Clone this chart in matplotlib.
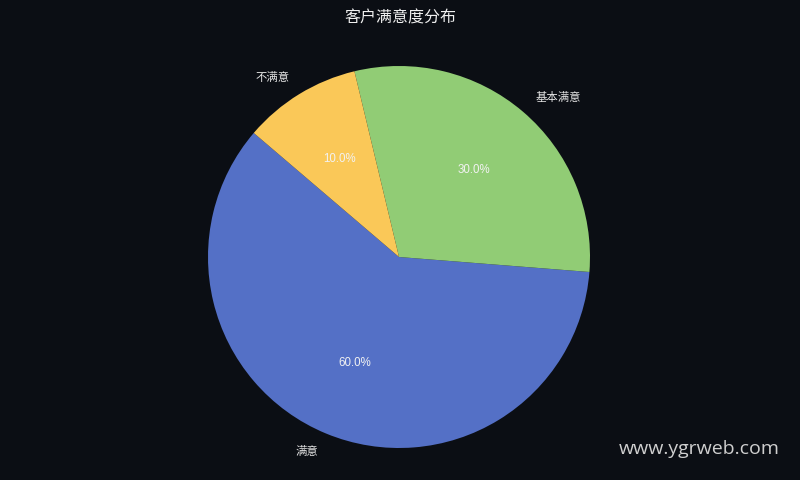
import matplotlib.pyplot as plt

# Dados do gráfico
categorias = ['满意', '基本满意', '不满意']
valores = [60, 30, 10]
cores = ['#5470c6', '#91cc75', '#fac858']

fundo = '#0b0e14'
plt.rcParams['font.family'] = ['Noto Sans CJK SC', 'DejaVu Sans']

fig = plt.figure(figsize=(8, 4.8), dpi=100, facecolor=fundo)

# eixo posicionado em pixels para o centro (399, 257) e raio ~191
raio_px = 191
lado = 2.5 * raio_px
ax = fig.add_axes([(399 - lado / 2) / 800, (223 - lado / 2) / 480, lado / 800, lado / 480])
ax.set_facecolor(fundo)

wedges, textos, pcts = ax.pie(valores, labels=categorias, colors=cores, startangle=139.5,
                              autopct='%1.1f%%', pctdistance=0.6, labeldistance=1.1,
                              wedgeprops=dict(linewidth=0))
for t in textos:
    t.set_color('#e6e6e6')
    t.set_fontsize(8.2)
for p in pcts:
    p.set_color('#f2f2f2')
    p.set_fontsize(8.3)
    p.set_family('Liberation Sans')

ax.set_xlim(-1.25, 1.25)
ax.set_ylim(-1.25, 1.25)
ax.set_aspect('equal')

fig.text(0.5, 1 - 18 / 480, '客户满意度分布', ha='center', va='center',
         color='#f0f0f0', fontsize=11.5)
fig.text(780 / 800, 1 - 449 / 480, 'www.ygrweb.com', ha='right', va='center',
         color='#cfcfcf', fontsize=14, family='Open Sans')

fig.savefig('out.png', dpi=100, facecolor=fundo)
